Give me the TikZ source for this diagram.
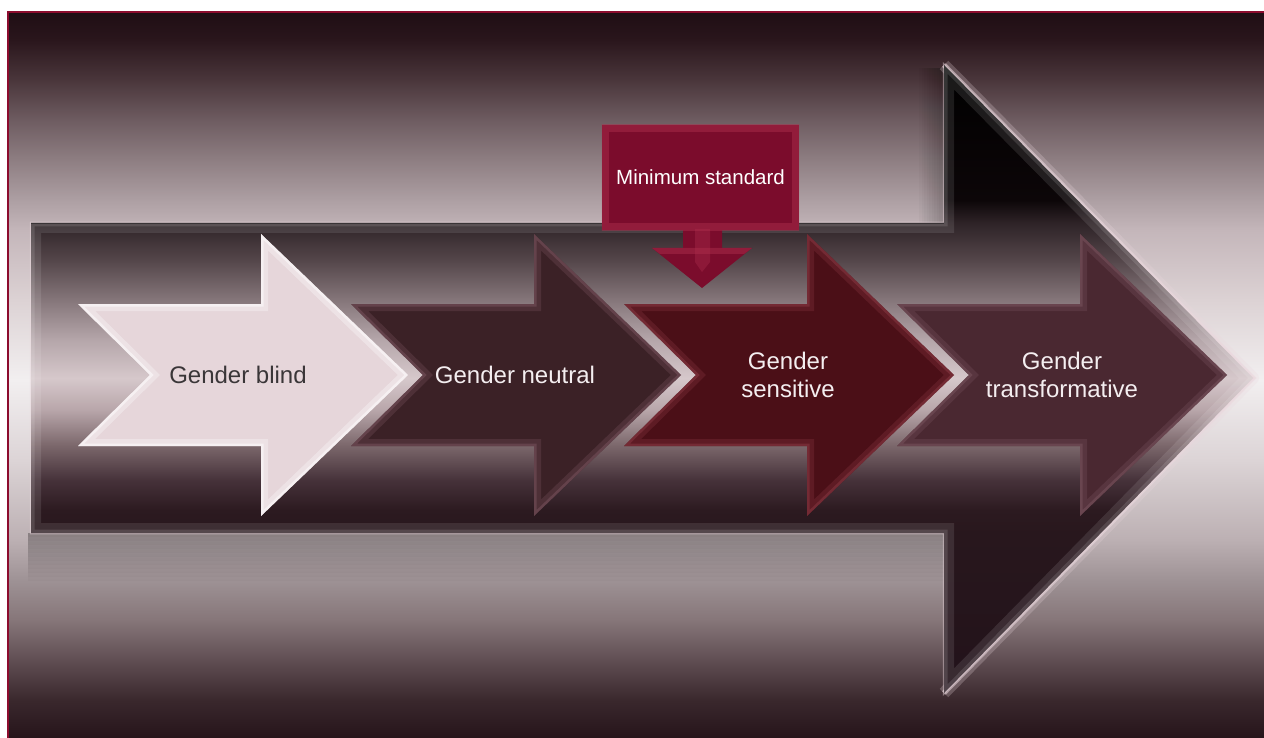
\documentclass[tikz,border=0pt]{standalone}
\usepackage{fontspec}
\setmainfont{Liberation Sans}
\usetikzlibrary{calc}
\definecolor{framecol}{HTML}{8C0C2E}
\definecolor{bgA}{HTML}{1F0D14}
\definecolor{bgB}{HTML}{2A161C}
\definecolor{bgC}{HTML}{4A363B}
\definecolor{bgD}{HTML}{6E5C61}
\definecolor{bgE}{HTML}{8E7E82}
\definecolor{bgF}{HTML}{AD9FA3}
\definecolor{bgG}{HTML}{C4B6BA}
\definecolor{bgH}{HTML}{DCD2D4}
\definecolor{bgI}{HTML}{F2EFF0}
\definecolor{bgJ}{HTML}{DCD4D6}
\definecolor{bgK}{HTML}{BCB0B3}
\definecolor{bgL}{HTML}{9E9295}
\definecolor{bgM}{HTML}{867679}
\definecolor{bgN}{HTML}{604E53}
\definecolor{bgO}{HTML}{3A282D}
\definecolor{bgP}{HTML}{26141A}
\definecolor{baA}{HTML}{000000}
\definecolor{baB}{HTML}{0C0608}
\definecolor{baC}{HTML}{2E2327}
\definecolor{baD}{HTML}{54464A}
\definecolor{baE}{HTML}{85767A}
\definecolor{baF}{HTML}{B5A6AA}
\definecolor{baG}{HTML}{D6C8CB}
\definecolor{baH}{HTML}{B8A6AA}
\definecolor{baI}{HTML}{7C686C}
\definecolor{baJ}{HTML}{46323A}
\definecolor{baK}{HTML}{2C1A20}
\definecolor{baL}{HTML}{28171D}
\definecolor{baM}{HTML}{22121A}
\definecolor{glowpink}{HTML}{EAD7DD}
\definecolor{blindfill}{HTML}{E6D6DA}
\definecolor{neutralfill}{HTML}{3B2126}
\definecolor{sensfill}{HTML}{4B0F17}
\definecolor{transfill}{HTML}{4A2831}
\definecolor{minfill}{HTML}{7B0C2C}
\definecolor{minbevel}{HTML}{B0304F}
\definecolor{darkbevel}{HTML}{7A5560}
\definecolor{sensbevel}{HTML}{8A3A44}
\definecolor{lighttext}{HTML}{F4EEF0}
\definecolor{darktext}{HTML}{3A3638}
\pgfdeclareverticalshading{bgshade}{100bp}{color(0bp)=(bgP); color(25bp)=(bgP); color(27.62bp)=(bgO); color(30.37bp)=(bgN); color(33.13bp)=(bgM); color(35.88bp)=(bgL); color(38.64bp)=(bgK); color(44.15bp)=(bgJ); color(49.66bp)=(bgI); color(55.17bp)=(bgH); color(59.99bp)=(bgG); color(62.05bp)=(bgF); color(64.81bp)=(bgE); color(67.56bp)=(bgD); color(70.32bp)=(bgC); color(73.07bp)=(bgB); color(75bp)=(bgA); color(100bp)=(bgA)}
\pgfdeclareverticalshading{bigshade}{100bp}{color(0bp)=(baM); color(25bp)=(baM); color(37.74bp)=(baL); color(39.57bp)=(baK); color(41.96bp)=(baJ); color(44.75bp)=(baI); color(47.53bp)=(baH); color(50.08bp)=(baG); color(53.10bp)=(baF); color(56.29bp)=(baE); color(59.47bp)=(baD); color(62.42bp)=(baC); color(64.25bp)=(baB); color(75bp)=(baA); color(100bp)=(baA)}
\newcommand{\chevpath}[1]{(#1,304) -- ({#1+183},304) -- ({#1+183},234) -- ({#1+330},375) -- ({#1+183},516) -- ({#1+183},446) -- (#1,446) -- ({#1+72},375) -- cycle}
\newcommand{\bigpath}{(31,223) -- (944,223) -- (944,65) -- (1253,378) -- (944,693) -- (944,533) -- (31,533) -- cycle}
\newcommand{\headdiag}{(944,65) -- (1253,378) -- (944,693)}
\newcommand{\drawchev}[3]{%
  \fill[#2] \chevpath{#1};
  \begin{scope}
    \clip \chevpath{#1};
    \draw[#3, line width=14, opacity=.3] \chevpath{#1};
    \draw[#3, line width=5, opacity=.5] \chevpath{#1};
  \end{scope}}
\tikzset{
  lbl/.style={font=\fontsize{24}{28}\selectfont, text=lighttext, align=center, inner sep=0pt},
  minbox/.style={fill=minfill, minimum width=197pt, minimum height=105pt, inner sep=0pt,
    font=\fontsize{20.5}{24}\selectfont, text=white},
}
\begin{document}
\begin{tikzpicture}[x=1pt,y=-1pt]
\useasboundingbox (0,0) rectangle (1264,738);
\fill[white] (0,0) rectangle (1264,738);
\shade[shading=bgshade] (8,12) rectangle (1264,738);
\draw[framecol, line width=1.6] (8,12) rectangle (1300,780);
% shadows around the big arrow
\foreach \i in {1,...,10} \fill[black, opacity=.025] ({944-2.5*\i},68) rectangle (944,223);
\foreach \i in {1,...,12} \fill[black, opacity=.025] (28,533) rectangle (944,{533+4*\i});
% big arrow
\draw[glowpink, line width=12, opacity=.25, line join=round] \headdiag;
\draw[glowpink, line width=5, opacity=.55] \headdiag;
\draw[glowpink, line width=2.5, opacity=.45] \bigpath;
\shade[shading=bigshade] \bigpath;
\begin{scope}
  \clip \bigpath;
  \draw[white, line width=20, opacity=.1] \bigpath;
  \draw[white, line width=7, opacity=.12] \bigpath;
  \draw[black, line width=3, opacity=.35] (31,223) -- (944,223);
\end{scope}
% chevrons
\drawchev{78}{blindfill}{white}
\drawchev{351}{neutralfill}{darkbevel}
\drawchev{624}{sensfill}{sensbevel}
\drawchev{897}{transfill}{darkbevel}
% minimum standard box and arrow
\node[minbox] (minstd) at (700.5,177.5) {};
\fill[minfill] (683,229) -- (722,229) -- (722,248) -- (752,248) -- (702,288) -- (652,248) -- (683,248) -- cycle;
\begin{scope}
  \clip (minstd.north west) rectangle (minstd.south east);
  \draw[minbevel, line width=14, opacity=.45] (minstd.north west) rectangle (minstd.south east);
\end{scope}
\fill[minbevel, opacity=.45] (652,248) -- (752,248) -- (744,254) -- (660,254) -- cycle;
\fill[minbevel, opacity=.35] (695,229) -- (710,229) -- (710,262) -- (702,272) -- (695,262) -- cycle;
\node[font=\fontsize{20.5}{24}\selectfont, text=white, inner sep=0pt] (mintext) at (minstd.center) {Minimum standard};
% labels
\node[lbl, text=darktext] (blind) at (238,375) {Gender blind};
\node[lbl] (neutral) at (515,375) {Gender neutral};
\node[lbl] (sensitive) at (788,375) {Gender\\sensitive};
\node[lbl] (transf) at (1062,375) {Gender\\transformative};
\end{tikzpicture}
\end{document}
